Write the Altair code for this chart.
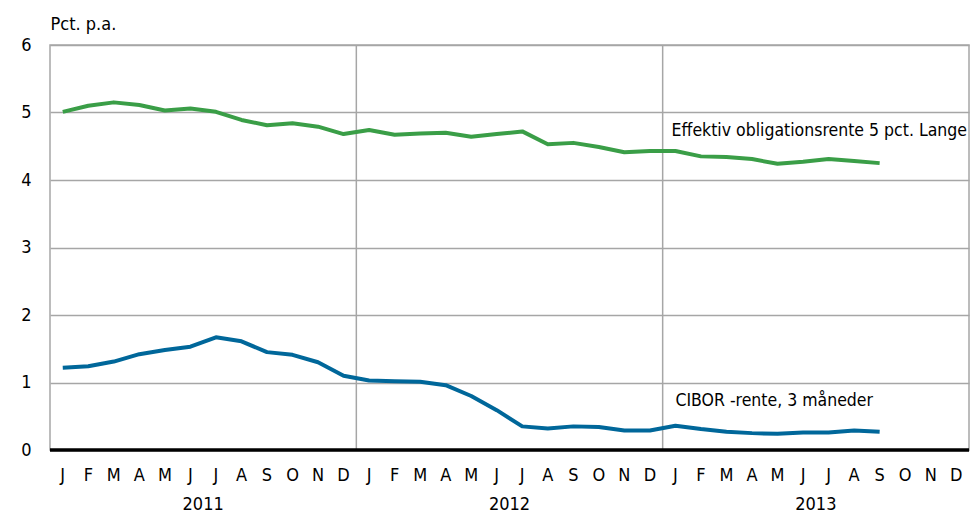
import altair as alt
import pandas as pd

months = ["J", "F", "M", "A", "M", "J", "J", "A", "S", "O", "N", "D"] * 3
years = ["2011", "2012", "2013"]

green = [5.01, 5.10, 5.15, 5.11, 5.03, 5.06, 5.01, 4.89, 4.81, 4.84, 4.79, 4.68,
         4.74, 4.67, 4.69, 4.70, 4.64, 4.68, 4.72, 4.53, 4.55, 4.49, 4.41, 4.43,
         4.43, 4.35, 4.34, 4.31, 4.24, 4.27, 4.31, 4.28, 4.25]
blue = [1.22, 1.24, 1.31, 1.42, 1.48, 1.53, 1.67, 1.61, 1.45, 1.41, 1.30, 1.10,
        1.03, 1.02, 1.01, 0.96, 0.80, 0.59, 0.35, 0.32, 0.35, 0.34, 0.29, 0.29,
        0.36, 0.31, 0.27, 0.25, 0.24, 0.26, 0.26, 0.29, 0.27]

series_names = ["Effektiv obligationsrente 5 pct. Lange", "CIBOR -rente, 3 måneder"]
series_colors = ["#3a9e47", "#00679a"]
label_x = [24.35, 24.5]
label_y = [4.73, 0.72]

FONT = "DejaVu Sans Condensed, Liberation Sans, sans-serif"

rows = []
for i, v in enumerate(green):
    rows.append({"x": i + 0.5, "v": v, "s": series_names[0]})
for i, v in enumerate(blue):
    rows.append({"x": i + 0.5, "v": v, "s": series_names[1]})
df = pd.DataFrame(rows)

mdf = pd.DataFrame({"x": [i + 0.5 for i in range(len(months))], "m": months})
ydf = pd.DataFrame({"x": [6 + 12 * i for i in range(len(years))], "y": years})
sep = pd.DataFrame({"x": [12, 24]})
ldf = pd.DataFrame({"x": label_x, "v": label_y, "t": series_names})
bdf = pd.DataFrame({"v": [0]})

xs = alt.Scale(domain=[0, 36], nice=False, zero=False)
ys = alt.Scale(domain=[0, 6], nice=False)

yaxis = alt.Axis(values=[0, 1, 2, 3, 4, 5, 6], format="d", ticks=False,
                 domain=False, grid=True, gridColor="#a6a6a6", gridWidth=1.5,
                 labelFont=FONT, labelFontSize=18, labelColor="#000",
                 labelPadding=19,
                 title="Pct. p.a.", titleAngle=0, titleAlign="left",
                 titleBaseline="alphabetic", titleX=0, titleY=-16,
                 titleFont=FONT, titleFontSize=18, titleFontWeight="normal",
                 titleColor="#000")


def X():
    return alt.X("x:Q", scale=xs, axis=None)


def Y():
    return alt.Y("v:Q", scale=ys, axis=yaxis)


grid = alt.Chart(df).mark_point(opacity=0).encode(x=X(), y=Y())

seps = alt.Chart(sep).mark_rule(color="#a6a6a6", strokeWidth=1.5).encode(x=X())

lines = alt.Chart(df).mark_line(strokeWidth=4, strokeJoin="round").encode(
    x=X(), y=Y(),
    color=alt.Color("s:N", scale=alt.Scale(domain=series_names, range=series_colors), legend=None),
)

baseline = alt.Chart(bdf).mark_rule(color="#000", strokeWidth=3.5).encode(y=Y())

mlab = alt.Chart(mdf).mark_text(font=FONT, fontSize=18, color="#000", baseline="middle").encode(
    x=X(), y=alt.value(476 - 45), text="m:N")

ylab = alt.Chart(ydf).mark_text(font=FONT, fontSize=18, color="#000", baseline="middle").encode(
    x=X(), y=alt.value(505 - 45), text="y:N")

slab = alt.Chart(ldf).mark_text(font=FONT, fontSize=17.5, color="#000", align="left",
                                baseline="middle").encode(
    x=X(), y=Y(), text="t:N")

chart = alt.layer(grid, seps, lines, baseline, mlab, ylab, slab).properties(
    width=919, height=405,
    autosize=alt.AutoSizeParams(type="none"),
    padding={"left": 42, "top": 37, "right": 1, "bottom": 63},
).configure_view(stroke="#a6a6a6", strokeWidth=1.5)

chart.save("out.html", embed_options={"renderer": "svg", "actions": False})
